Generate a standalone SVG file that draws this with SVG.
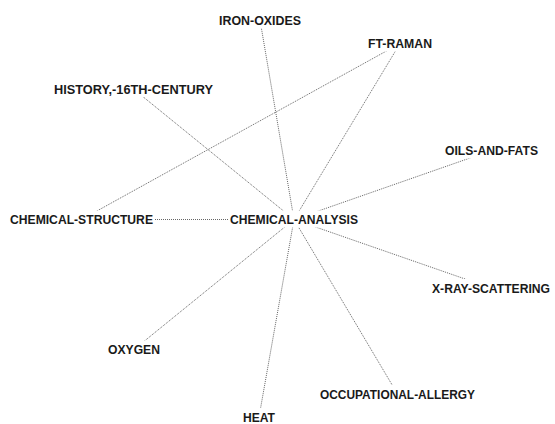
<svg xmlns="http://www.w3.org/2000/svg" width="555" height="424" viewBox="0 0 555 424">
  <style>
    .edge { stroke: #666666; stroke-width: 1; stroke-dasharray: 1 1; fill: none; }
    .bg { fill: #ffffff; }
    .lbl { font-family: "Liberation Sans", Arial, sans-serif; font-size: 13.5px; font-weight: bold; fill: #1a1a1a; text-anchor: middle; }
  </style>
  <rect width="555" height="424" fill="#ffffff"/>
  <g id="connectors">
    <line class="edge" x1="294" y1="219.5" x2="260" y2="20"/>
    <line class="edge" x1="294" y1="219.5" x2="400" y2="43.5"/>
    <line class="edge" x1="294" y1="219.5" x2="133.5" y2="89"/>
    <line class="edge" x1="294" y1="219.5" x2="81.5" y2="219.5"/>
    <line class="edge" x1="294" y1="219.5" x2="491.5" y2="150.5"/>
    <line class="edge" x1="294" y1="219.5" x2="491" y2="288"/>
    <line class="edge" x1="294" y1="219.5" x2="134" y2="349.5"/>
    <line class="edge" x1="294" y1="219.5" x2="259" y2="417"/>
    <line class="edge" x1="294" y1="219.5" x2="397.5" y2="394"/>
    <line class="edge" x1="81.5" y1="219.5" x2="400" y2="43.5"/>
  </g>
  <g id="iron-oxides">
    <rect class="bg" x="217" y="11" width="86" height="17"/>
    <text class="lbl" x="260" y="24.5" textLength="82" lengthAdjust="spacingAndGlyphs">IRON-OXIDES</text>
  </g>
  <g id="ft-raman">
    <rect class="bg" x="366" y="34.5" width="68" height="17"/>
    <text class="lbl" x="400" y="48" textLength="64" lengthAdjust="spacingAndGlyphs">FT-RAMAN</text>
  </g>
  <g id="history-16th-century">
    <rect class="bg" x="52" y="80" width="163" height="17"/>
    <text class="lbl" x="133.5" y="93.5" textLength="159" lengthAdjust="spacingAndGlyphs">HISTORY,-16TH-CENTURY</text>
  </g>
  <g id="chemical-structure">
    <rect class="bg" x="8" y="210.5" width="147" height="17"/>
    <text class="lbl" x="81.5" y="224" textLength="143" lengthAdjust="spacingAndGlyphs">CHEMICAL-STRUCTURE</text>
  </g>
  <g id="chemical-analysis">
    <rect class="bg" x="228" y="210.5" width="132" height="17"/>
    <text class="lbl" x="294" y="224" textLength="128" lengthAdjust="spacingAndGlyphs">CHEMICAL-ANALYSIS</text>
  </g>
  <g id="oils-and-fats">
    <rect class="bg" x="443" y="141.5" width="97" height="17"/>
    <text class="lbl" x="491.5" y="155" textLength="93" lengthAdjust="spacingAndGlyphs">OILS-AND-FATS</text>
  </g>
  <g id="x-ray-scattering">
    <rect class="bg" x="430" y="279" width="122" height="17"/>
    <text class="lbl" x="491" y="292.5" textLength="118" lengthAdjust="spacingAndGlyphs">X-RAY-SCATTERING</text>
  </g>
  <g id="oxygen">
    <rect class="bg" x="106" y="340.5" width="56" height="17"/>
    <text class="lbl" x="134" y="354" textLength="52" lengthAdjust="spacingAndGlyphs">OXYGEN</text>
  </g>
  <g id="heat">
    <rect class="bg" x="241" y="408" width="36" height="16"/>
    <text class="lbl" x="259" y="421.5" textLength="32" lengthAdjust="spacingAndGlyphs">HEAT</text>
  </g>
  <g id="occupational-allergy">
    <rect class="bg" x="318" y="385" width="159" height="17"/>
    <text class="lbl" x="397.5" y="398.5" textLength="155" lengthAdjust="spacingAndGlyphs">OCCUPATIONAL-ALLERGY</text>
  </g>
</svg>
